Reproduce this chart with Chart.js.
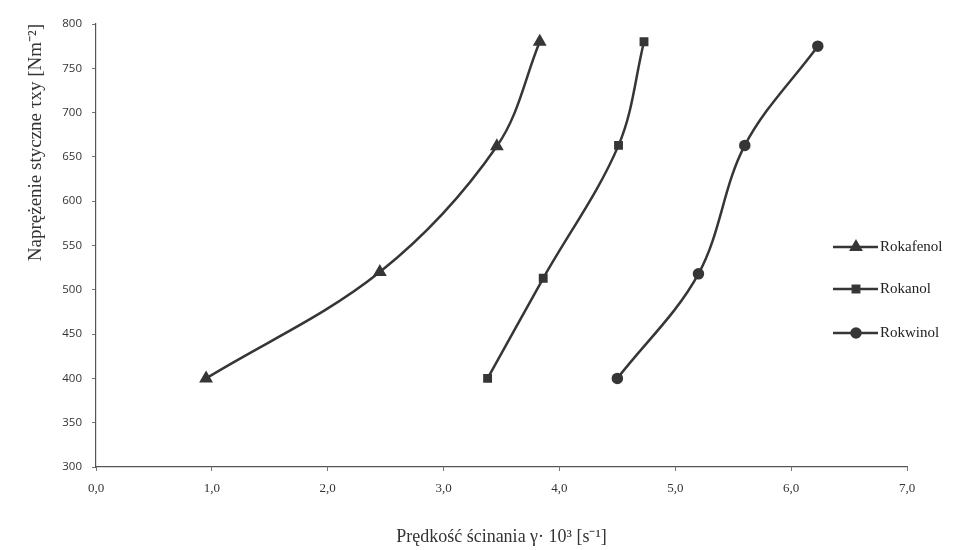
<!DOCTYPE html>
<html>
<head>
<meta charset="utf-8">
<script src="https://cdn.jsdelivr.net/npm/chart.js@4/dist/chart.umd.min.js"></script>
<style>
  html, body { margin: 0; padding: 0; background: #fff; }
  #wrap { width: 965px; height: 550px; }
</style>
</head>
<body>
<div id="wrap"><canvas id="wykres"></canvas></div>
<script>
// dane
const seriesNames = ['Rokafenol', 'Rokanol', 'Rokwinol'];
const markers = ['triangle', 'rect', 'circle'];

const rokafenolX = [0.95, 2.45, 3.46, 3.83];
const rokafenolY = [400, 520, 662, 780];

const rokanolX = [3.38, 3.86, 4.51, 4.73];
const rokanolY = [400, 513, 663, 780];

const rokwinolX = [4.50, 5.20, 5.60, 6.23];
const rokwinolY = [400, 518, 663, 775];

const xTickLabels = ['0,0', '1,0', '2,0', '3,0', '4,0', '5,0', '6,0', '7,0'];
const yTickLabels = ['300', '350', '400', '450', '500', '550', '600', '650', '700', '750', '800'];

const kolor = '#363636';

function punkty(xs, ys) {
    return xs.map((x, i) => ({ x: x, y: ys[i] }));
}

const allX = [rokafenolX, rokanolX, rokwinolX];
const allY = [rokafenolY, rokanolY, rokwinolY];

let datasets = seriesNames.map((name, i) => ({
    label: name,
    data: punkty(allX[i], allY[i]),
    showLine: true,
    borderColor: kolor,
    backgroundColor: kolor,
    borderWidth: 2.5,
    tension: 0.35,
    pointStyle: markers[i],
    pointRadius: markers[i] === 'triangle' ? 5.5 : 4.5,
    pointBackgroundColor: kolor,
    pointBorderColor: kolor
}));

// legenda rysowana na obszarze wykresu (jak w oryginale)
const legendaPlugin = {
    id: 'legenda',
    afterDraw(chart) {
        const ctx = chart.ctx;
        const rows = [247, 289, 333];
        ctx.save();
        chart.data.datasets.forEach((ds, i) => {
            let y = rows[i];
            ctx.strokeStyle = ds.borderColor;
            ctx.lineWidth = 2.5;
            ctx.beginPath();
            ctx.moveTo(833, y);
            ctx.lineTo(878, y);
            ctx.stroke();
            ctx.fillStyle = ds.borderColor;
            Chart.helpers.drawPoint(ctx, {
                pointStyle: ds.pointStyle,
                radius: ds.pointRadius,
                borderWidth: 1
            }, 856, y);
            ctx.fillStyle = '#222';
            ctx.font = '15px "Liberation Serif"';
            ctx.textBaseline = 'middle';
            ctx.textAlign = 'left';
            ctx.fillText(ds.label, 880, y);
        });
        ctx.restore();
    }
};

let ctx = document.getElementById('wykres').getContext('2d');
let wykres = new Chart(ctx, {
    type: 'scatter',
    data: { datasets: datasets },
    options: {
        responsive: true,
        maintainAspectRatio: false,
        animation: false,
        layout: { padding: { top: 24, right: 58, bottom: 0, left: 0 } },
        plugins: {
            legend: { display: false },
            tooltip: { enabled: false }
        },
        scales: {
            x: {
                type: 'linear',
                min: 0,
                max: 7,
                afterFit: s => { s.height = 83; },
                ticks: {
                    stepSize: 1,
                    padding: 10,
                    color: '#333',
                    font: { family: 'Liberation Serif', size: 13 },
                    callback: (v, i) => xTickLabels[i]
                },
                grid: { drawOnChartArea: false, tickLength: 4, color: '#777' },
                border: { display: true, color: '#555', width: 1.2 },
                title: {
                    display: true,
                    text: 'Prędkość ścinania γ· 10³ [s⁻¹]',
                    color: '#333',
                    font: { family: 'Liberation Serif', size: 18 },
                    padding: { top: 0, bottom: 2 }
                }
            },
            y: {
                type: 'linear',
                min: 300,
                max: 800,
                afterFit: s => { s.width = 96; },
                ticks: {
                    stepSize: 50,
                    padding: 10,
                    color: '#333',
                    font: { family: 'Open Sans', size: 11.5 },
                    callback: (v, i) => yTickLabels[i]
                },
                grid: { drawOnChartArea: false, tickLength: 4, color: '#777' },
                border: { display: true, color: '#555', width: 1.2 },
                title: {
                    display: true,
                    align: 'end',
                    text: 'Naprężenie styczne τxy [Nm⁻²]',
                    color: '#333',
                    font: { family: 'Liberation Serif', size: 19 },
                    padding: { top: 25, bottom: 0 }
                }
            }
        }
    },
    plugins: [legendaPlugin]
});
</script>
</body>
</html>
